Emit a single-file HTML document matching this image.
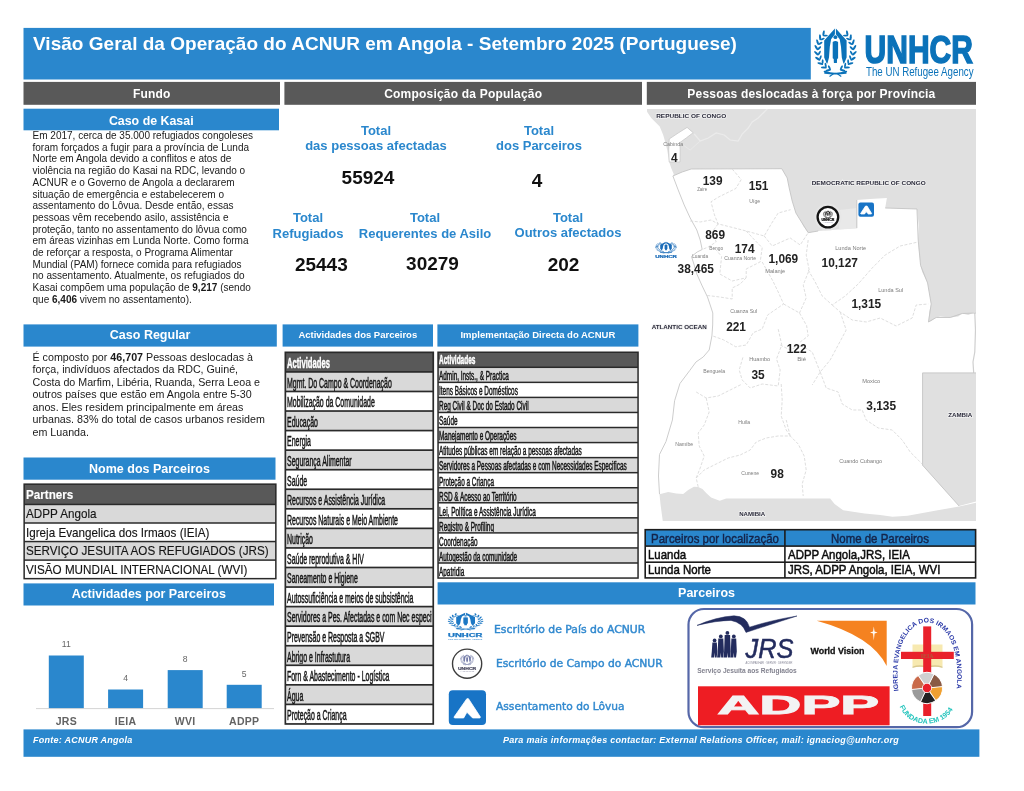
<!DOCTYPE html>
<html lang="pt"><head><meta charset="utf-8"><title>Visão Geral da Operação do ACNUR em Angola</title>
<style>
html,body{margin:0;padding:0;background:#fff;}
body{width:1024px;height:791px;position:relative;overflow:hidden;font-family:"Liberation Sans",Arial,sans-serif;color:#111;}
.a{position:absolute;}
.bar{position:absolute;color:#fff;font-weight:bold;text-align:center;white-space:nowrap;}
.t{position:absolute;white-space:nowrap;}
.c{position:absolute;white-space:nowrap;text-align:center;transform:translateX(-50%);}
.lbl{color:#2a87cd;font-weight:bold;font-size:13px;line-height:14.4px;}
.num{color:#111;font-weight:bold;font-size:19px;}
.p{position:absolute;font-size:10.03px;color:#1a1a1a;white-space:nowrap;}
.p b{font-weight:bold;}
.tbl{position:absolute;}
.row{position:absolute;left:0;overflow:hidden;white-space:nowrap;}
.row span{display:inline-block;transform-origin:0 50%;position:absolute;left:0;top:0;}
.mn{font-weight:bold;font-size:11.9px;fill:#222;font-family:"Liberation Sans",Arial,sans-serif;}
.ml{font-size:4.5px;fill:#7c7c7c;font-family:"Liberation Sans",Arial,sans-serif;}
.mc{font-size:6.2px;font-weight:bold;fill:#2c2c3c;stroke:#f1f1f1;stroke-width:1.6px;paint-order:stroke;font-family:"Liberation Sans",Arial,sans-serif;}
</style></head>
<body>
<svg class="a" style="left:0;top:0" width="1024" height="791" viewBox="0 0 1024 791">
<rect x="23.50" y="27.90" width="787.30" height="51.60" fill="#2a87cd"/>
<rect x="23.50" y="81.90" width="256.50" height="22.90" fill="#595959"/>
<rect x="284.40" y="81.90" width="357.60" height="22.90" fill="#595959"/>
<rect x="646.80" y="81.90" width="329.20" height="22.90" fill="#595959"/>
<rect x="23.50" y="108.70" width="255.50" height="21.60" fill="#2a87cd"/>
<rect x="23.50" y="324.40" width="253.30" height="22.20" fill="#2a87cd"/>
<rect x="23.50" y="457.50" width="252.00" height="22.20" fill="#2a87cd"/>
<rect x="23.50" y="583.40" width="250.50" height="22.10" fill="#2a87cd"/>
<rect x="282.60" y="324.40" width="150.40" height="22.20" fill="#2a87cd"/>
<rect x="437.40" y="324.40" width="201.00" height="22.20" fill="#2a87cd"/>
<rect x="437.60" y="582.30" width="537.90" height="22.20" fill="#2a87cd"/>
<rect x="23.40" y="483.40" width="253.20" height="96.00" fill="#2a2a2a"/>
<rect x="24.90" y="484.90" width="250.20" height="18.80" fill="#595959"/>
<rect x="24.90" y="505.20" width="250.20" height="17.05" fill="#d9d9d9"/>
<rect x="24.90" y="523.75" width="250.20" height="17.05" fill="#fff"/>
<rect x="24.90" y="542.30" width="250.20" height="17.05" fill="#d9d9d9"/>
<rect x="24.90" y="560.85" width="250.20" height="17.05" fill="#fff"/>
<rect x="284.50" y="351.50" width="149.60" height="373.30" fill="#2a2a2a"/>
<rect x="286.20" y="353.20" width="146.20" height="17.86" fill="#595959"/>
<rect x="286.20" y="372.76" width="146.20" height="17.86" fill="#d9d9d9"/>
<rect x="286.20" y="392.32" width="146.20" height="17.86" fill="#fff"/>
<rect x="286.20" y="411.87" width="146.20" height="17.86" fill="#d9d9d9"/>
<rect x="286.20" y="431.43" width="146.20" height="17.86" fill="#fff"/>
<rect x="286.20" y="450.99" width="146.20" height="17.86" fill="#d9d9d9"/>
<rect x="286.20" y="470.55" width="146.20" height="17.86" fill="#fff"/>
<rect x="286.20" y="490.11" width="146.20" height="17.86" fill="#d9d9d9"/>
<rect x="286.20" y="509.66" width="146.20" height="17.86" fill="#fff"/>
<rect x="286.20" y="529.22" width="146.20" height="17.86" fill="#d9d9d9"/>
<rect x="286.20" y="548.78" width="146.20" height="17.86" fill="#fff"/>
<rect x="286.20" y="568.34" width="146.20" height="17.86" fill="#d9d9d9"/>
<rect x="286.20" y="587.89" width="146.20" height="17.86" fill="#fff"/>
<rect x="286.20" y="607.45" width="146.20" height="17.86" fill="#d9d9d9"/>
<rect x="286.20" y="627.01" width="146.20" height="17.86" fill="#fff"/>
<rect x="286.20" y="646.57" width="146.20" height="17.86" fill="#d9d9d9"/>
<rect x="286.20" y="666.13" width="146.20" height="17.86" fill="#fff"/>
<rect x="286.20" y="685.68" width="146.20" height="17.86" fill="#d9d9d9"/>
<rect x="286.20" y="705.24" width="146.20" height="17.86" fill="#fff"/>
<rect x="437.30" y="351.50" width="201.50" height="227.30" fill="#2a2a2a"/>
<rect x="438.80" y="353.00" width="198.50" height="13.55" fill="#595959"/>
<rect x="438.80" y="368.05" width="198.50" height="13.55" fill="#d9d9d9"/>
<rect x="438.80" y="383.11" width="198.50" height="13.55" fill="#fff"/>
<rect x="438.80" y="398.16" width="198.50" height="13.55" fill="#d9d9d9"/>
<rect x="438.80" y="413.21" width="198.50" height="13.55" fill="#fff"/>
<rect x="438.80" y="428.27" width="198.50" height="13.55" fill="#d9d9d9"/>
<rect x="438.80" y="443.32" width="198.50" height="13.55" fill="#fff"/>
<rect x="438.80" y="458.37" width="198.50" height="13.55" fill="#d9d9d9"/>
<rect x="438.80" y="473.43" width="198.50" height="13.55" fill="#fff"/>
<rect x="438.80" y="488.48" width="198.50" height="13.55" fill="#d9d9d9"/>
<rect x="438.80" y="503.53" width="198.50" height="13.55" fill="#fff"/>
<rect x="438.80" y="518.59" width="198.50" height="13.55" fill="#d9d9d9"/>
<rect x="438.80" y="533.64" width="198.50" height="13.55" fill="#fff"/>
<rect x="438.80" y="548.69" width="198.50" height="13.55" fill="#d9d9d9"/>
<rect x="438.80" y="563.75" width="198.50" height="13.55" fill="#fff"/>
<rect x="644.40" y="528.90" width="332.00" height="49.80" fill="#1c1c1c"/>
<rect x="646.00" y="530.50" width="138.10" height="14.80" fill="#2a87cd"/>
<rect x="785.70" y="530.50" width="189.10" height="14.80" fill="#2a87cd"/>
<rect x="646.00" y="546.90" width="138.10" height="14.50" fill="#fff"/>
<rect x="785.70" y="546.90" width="189.10" height="14.50" fill="#fff"/>
<rect x="646.00" y="563.00" width="138.10" height="14.10" fill="#fff"/>
<rect x="785.70" y="563.00" width="189.10" height="14.10" fill="#fff"/>
<rect x="36.00" y="708.10" width="238.00" height="1.00" fill="#d4d4d4"/>
<rect x="48.80" y="655.50" width="35.00" height="52.60" fill="#2a87cd"/>
<rect x="108.10" y="689.50" width="35.00" height="18.60" fill="#2a87cd"/>
<rect x="167.70" y="670.10" width="35.00" height="38.00" fill="#2a87cd"/>
<rect x="226.70" y="684.80" width="35.00" height="23.30" fill="#2a87cd"/>
<rect x="23.50" y="729.40" width="955.90" height="27.40" fill="#2a87cd"/>
</svg>
<div class="t" style="left:33px;top:32.3px;font-size:19px;font-weight:bold;color:#fff;line-height:23px;letter-spacing:0.02px">Visão Geral da Operação do ACNUR em Angola - Setembro 2025 (Portuguese)</div>
<div class="bar" style="left:23.5px;top:81.9px;width:256.5px;height:22.89999999999999px;line-height:25.09999999999999px;font-size:12px;letter-spacing:0.2px">Fundo</div>
<div class="bar" style="left:284.4px;top:81.9px;width:357.6px;height:22.89999999999999px;line-height:25.09999999999999px;font-size:12px;letter-spacing:0.2px">Composição da População</div>
<div class="bar" style="left:646.8px;top:81.9px;width:329.20000000000005px;height:22.89999999999999px;line-height:25.09999999999999px;font-size:12px;letter-spacing:0.2px">Pessoas deslocadas à força por Província</div>
<div class="bar" style="left:23.5px;top:108.7px;width:255.5px;height:21.60000000000001px;line-height:24.40000000000001px;font-size:12.4px;letter-spacing:0px">Caso de Kasai</div>
<div class="bar" style="left:23.5px;top:324.4px;width:253.3px;height:22.200000000000045px;line-height:22.200000000000045px;font-size:12.5px;letter-spacing:0px">Caso Regular</div>
<div class="bar" style="left:23.5px;top:457.5px;width:252.0px;height:22.19999999999999px;line-height:22.19999999999999px;font-size:12.5px;letter-spacing:0px">Nome dos Parceiros</div>
<div class="bar" style="left:23.5px;top:583.4px;width:250.5px;height:22.100000000000023px;line-height:22.100000000000023px;font-size:12.5px;letter-spacing:0px">Actividades por Parceiros</div>
<div class="bar" style="left:282.6px;top:324.4px;width:150.39999999999998px;height:22.200000000000045px;line-height:22.200000000000045px;font-size:9.5px;letter-spacing:0px">Actividades dos Parceiros</div>
<div class="bar" style="left:437.4px;top:324.4px;width:201.0px;height:22.200000000000045px;line-height:22.200000000000045px;font-size:9.5px;letter-spacing:0px">Implementação Directa do ACNUR</div>
<div class="bar" style="left:437.6px;top:582.3px;width:537.9px;height:22.200000000000045px;line-height:22.200000000000045px;font-size:12.5px;letter-spacing:0px">Parceiros</div>
<div class="p" style="left:32.5px;top:130.10px;line-height:12px">Em 2017, cerca de 35.000 refugiados congoleses</div>
<div class="p" style="left:32.5px;top:141.78px;line-height:12px">foram forçados a fugir para a província de Lunda</div>
<div class="p" style="left:32.5px;top:153.46px;line-height:12px">Norte em Angola devido a conflitos e atos de</div>
<div class="p" style="left:32.5px;top:165.14px;line-height:12px">violência na região do Kasai na RDC, levando o</div>
<div class="p" style="left:32.5px;top:176.82px;line-height:12px">ACNUR e o Governo de Angola a declararem</div>
<div class="p" style="left:32.5px;top:188.50px;line-height:12px">situação de emergência e estabelecerem o</div>
<div class="p" style="left:32.5px;top:200.18px;line-height:12px">assentamento do Lôvua. Desde então, essas</div>
<div class="p" style="left:32.5px;top:211.86px;line-height:12px">pessoas vêm recebendo asilo, assistência e</div>
<div class="p" style="left:32.5px;top:223.54px;line-height:12px">proteção, tanto no assentamento do lôvua como</div>
<div class="p" style="left:32.5px;top:235.22px;line-height:12px">em áreas vizinhas em Lunda Norte. Como forma</div>
<div class="p" style="left:32.5px;top:246.90px;line-height:12px">de reforçar a resposta, o Programa Alimentar</div>
<div class="p" style="left:32.5px;top:258.58px;line-height:12px">Mundial (PAM) fornece comida para refugiados</div>
<div class="p" style="left:32.5px;top:270.26px;line-height:12px">no assentamento. Atualmente, os refugiados do</div>
<div class="p" style="left:32.5px;top:281.94px;line-height:12px">Kasai compõem uma população de <b>9,217</b> (sendo</div>
<div class="p" style="left:32.5px;top:293.62px;line-height:12px">que <b>6,406</b> vivem no assentamento).</div>
<div class="p" style="left:32.5px;top:350.50px;line-height:12px;font-size:10.7px">É composto por <b>46,707</b> Pessoas deslocadas à</div>
<div class="p" style="left:32.5px;top:363.05px;line-height:12px;font-size:10.7px">força, indivíduos afectados da RDC, Guiné,</div>
<div class="p" style="left:32.5px;top:375.60px;line-height:12px;font-size:10.7px">Costa do Marfim, Libéria, Ruanda, Serra Leoa e</div>
<div class="p" style="left:32.5px;top:388.15px;line-height:12px;font-size:10.7px">outros países que estão em Angola entre 5-30</div>
<div class="p" style="left:32.5px;top:400.70px;line-height:12px;font-size:10.7px">anos. Eles residem principalmente em áreas</div>
<div class="p" style="left:32.5px;top:413.25px;line-height:12px;font-size:10.7px">urbanas. 83% do total de casos urbanos residem</div>
<div class="p" style="left:32.5px;top:425.80px;line-height:12px;font-size:10.7px">em Luanda.</div>
<div class="c lbl" style="left:376px;top:124.3px;line-height:14.7px">Total<br>das pessoas afectadas</div>
<div class="c lbl" style="left:539px;top:124.3px;line-height:14.7px">Total<br>dos Parceiros</div>
<div class="c num" style="left:368px;top:167.6px;line-height:20px">55924</div>
<div class="c num" style="left:537px;top:171px;line-height:20px">4</div>
<div class="c lbl" style="left:308px;top:210.4px;line-height:15.7px">Total<br>Refugiados</div>
<div class="c lbl" style="left:425px;top:210.4px;line-height:15.7px">Total<br>Requerentes de Asilo</div>
<div class="c lbl" style="left:568px;top:210.7px;line-height:14.9px">Total<br>Outros afectados</div>
<div class="c num" style="left:321.3px;top:255.3px;line-height:20px">25443</div>
<div class="c num" style="left:432.5px;top:254.3px;line-height:20px">30279</div>
<div class="c num" style="left:563.5px;top:255.3px;line-height:20px">202</div>
<div class="tbl" style="left:23.4px;top:483.4px;width:253.20000000000002px;height:96.0px"><div class="row" style="top:1.50px;left:1.5px;width:250.20000000000002px;height:18.80px;color:#fff;font-weight:bold;font-size:13.5px;line-height:13.5px"><span style="transform:scaleX(0.864);left:1.6px;top:3.17px;-webkit-text-stroke:0.15px #fff">Partners</span></div><div class="row" style="top:21.80px;left:1.5px;width:250.20000000000002px;height:17.05px;color:#151515;font-weight:normal;font-size:13.5px;line-height:13.5px"><span style="transform:scaleX(0.864);left:1.6px;top:2.12px;-webkit-text-stroke:0.15px #151515">ADPP Angola</span></div><div class="row" style="top:40.35px;left:1.5px;width:250.20000000000002px;height:17.05px;color:#151515;font-weight:normal;font-size:13.5px;line-height:13.5px"><span style="transform:scaleX(0.864);left:1.6px;top:2.12px;-webkit-text-stroke:0.15px #151515">Igreja Evangelica dos Irmaos (IEIA)</span></div><div class="row" style="top:58.90px;left:1.5px;width:250.20000000000002px;height:17.05px;color:#151515;font-weight:normal;font-size:13.5px;line-height:13.5px"><span style="transform:scaleX(0.864);left:1.6px;top:2.12px;-webkit-text-stroke:0.15px #151515">SERVIÇO JESUITA AOS REFUGIADOS (JRS)</span></div><div class="row" style="top:77.45px;left:1.5px;width:250.20000000000002px;height:17.05px;color:#151515;font-weight:normal;font-size:13.5px;line-height:13.5px"><span style="transform:scaleX(0.864);left:1.6px;top:2.12px;-webkit-text-stroke:0.15px #151515">VISÃO MUNDIAL INTERNACIONAL (WVI)</span></div></div>
<div class="tbl" style="left:284.5px;top:351.5px;width:149.60000000000002px;height:373.29999999999995px"><div class="row" style="top:1.70px;left:1.7px;width:146.20000000000002px;height:17.86px;color:#fff;font-weight:bold;font-size:15px;line-height:15px"><span style="transform:scaleX(0.51);left:0.9px;top:2.16px;-webkit-text-stroke:0.5px #fff">Actividades</span></div><div class="row" style="top:21.26px;left:1.7px;width:146.20000000000002px;height:17.86px;color:#151515;font-weight:normal;font-size:14px;line-height:14px"><span style="transform:scaleX(0.497);left:0.9px;top:3.01px;-webkit-text-stroke:0.5px #151515">Mgmt. Do Campo &amp; Coordenação</span></div><div class="row" style="top:40.82px;left:1.7px;width:146.20000000000002px;height:17.86px;color:#151515;font-weight:normal;font-size:14px;line-height:14px"><span style="transform:scaleX(0.497);left:0.9px;top:3.01px;-webkit-text-stroke:0.5px #151515">Mobilização da Comunidade</span></div><div class="row" style="top:60.37px;left:1.7px;width:146.20000000000002px;height:17.86px;color:#151515;font-weight:normal;font-size:14px;line-height:14px"><span style="transform:scaleX(0.497);left:0.9px;top:3.01px;-webkit-text-stroke:0.5px #151515">Educação</span></div><div class="row" style="top:79.93px;left:1.7px;width:146.20000000000002px;height:17.86px;color:#151515;font-weight:normal;font-size:14px;line-height:14px"><span style="transform:scaleX(0.497);left:0.9px;top:3.01px;-webkit-text-stroke:0.5px #151515">Energia</span></div><div class="row" style="top:99.49px;left:1.7px;width:146.20000000000002px;height:17.86px;color:#151515;font-weight:normal;font-size:14px;line-height:14px"><span style="transform:scaleX(0.497);left:0.9px;top:3.01px;-webkit-text-stroke:0.5px #151515">Segurança Alimentar</span></div><div class="row" style="top:119.05px;left:1.7px;width:146.20000000000002px;height:17.86px;color:#151515;font-weight:normal;font-size:14px;line-height:14px"><span style="transform:scaleX(0.497);left:0.9px;top:3.01px;-webkit-text-stroke:0.5px #151515">Saúde</span></div><div class="row" style="top:138.61px;left:1.7px;width:146.20000000000002px;height:17.86px;color:#151515;font-weight:normal;font-size:14px;line-height:14px"><span style="transform:scaleX(0.497);left:0.9px;top:3.01px;-webkit-text-stroke:0.5px #151515">Recursos e Assistência Jurídica</span></div><div class="row" style="top:158.16px;left:1.7px;width:146.20000000000002px;height:17.86px;color:#151515;font-weight:normal;font-size:14px;line-height:14px"><span style="transform:scaleX(0.497);left:0.9px;top:3.01px;-webkit-text-stroke:0.5px #151515">Recursos Naturais e Meio Ambiente</span></div><div class="row" style="top:177.72px;left:1.7px;width:146.20000000000002px;height:17.86px;color:#151515;font-weight:normal;font-size:14px;line-height:14px"><span style="transform:scaleX(0.497);left:0.9px;top:3.01px;-webkit-text-stroke:0.5px #151515">Nutrição</span></div><div class="row" style="top:197.28px;left:1.7px;width:146.20000000000002px;height:17.86px;color:#151515;font-weight:normal;font-size:14px;line-height:14px"><span style="transform:scaleX(0.497);left:0.9px;top:3.01px;-webkit-text-stroke:0.5px #151515">Saúde reprodutiva &amp; HIV</span></div><div class="row" style="top:216.84px;left:1.7px;width:146.20000000000002px;height:17.86px;color:#151515;font-weight:normal;font-size:14px;line-height:14px"><span style="transform:scaleX(0.497);left:0.9px;top:3.01px;-webkit-text-stroke:0.5px #151515">Saneamento e Higiene</span></div><div class="row" style="top:236.39px;left:1.7px;width:146.20000000000002px;height:17.86px;color:#151515;font-weight:normal;font-size:14px;line-height:14px"><span style="transform:scaleX(0.497);left:0.9px;top:3.01px;-webkit-text-stroke:0.5px #151515">Autossuficiência e meios de subsistência</span></div><div class="row" style="top:255.95px;left:1.7px;width:146.20000000000002px;height:17.86px;color:#151515;font-weight:normal;font-size:14px;line-height:14px"><span style="transform:scaleX(0.497);left:0.9px;top:3.01px;-webkit-text-stroke:0.5px #151515">Servidores a Pes. Afectadas e com Nec especificas</span></div><div class="row" style="top:275.51px;left:1.7px;width:146.20000000000002px;height:17.86px;color:#151515;font-weight:normal;font-size:14px;line-height:14px"><span style="transform:scaleX(0.497);left:0.9px;top:3.01px;-webkit-text-stroke:0.5px #151515">Prevensão e Resposta a SGBV</span></div><div class="row" style="top:295.07px;left:1.7px;width:146.20000000000002px;height:17.86px;color:#151515;font-weight:normal;font-size:14px;line-height:14px"><span style="transform:scaleX(0.497);left:0.9px;top:3.01px;-webkit-text-stroke:0.5px #151515">Abrigo e Infrastutura</span></div><div class="row" style="top:314.63px;left:1.7px;width:146.20000000000002px;height:17.86px;color:#151515;font-weight:normal;font-size:14px;line-height:14px"><span style="transform:scaleX(0.497);left:0.9px;top:3.01px;-webkit-text-stroke:0.5px #151515">Forn &amp; Abastecimento - Logística</span></div><div class="row" style="top:334.18px;left:1.7px;width:146.20000000000002px;height:17.86px;color:#151515;font-weight:normal;font-size:14px;line-height:14px"><span style="transform:scaleX(0.497);left:0.9px;top:3.01px;-webkit-text-stroke:0.5px #151515">Água</span></div><div class="row" style="top:353.74px;left:1.7px;width:146.20000000000002px;height:17.86px;color:#151515;font-weight:normal;font-size:14px;line-height:14px"><span style="transform:scaleX(0.497);left:0.9px;top:3.01px;-webkit-text-stroke:0.5px #151515">Proteção a Criança</span></div></div>
<div class="tbl" style="left:437.3px;top:351.5px;width:201.49999999999994px;height:227.29999999999995px"><div class="row" style="top:1.50px;left:1.5px;width:198.49999999999994px;height:13.55px;color:#fff;font-weight:bold;font-size:12px;line-height:12px"><span style="transform:scaleX(0.54);left:0.6px;top:1.40px;-webkit-text-stroke:0.5px #fff">Actividades</span></div><div class="row" style="top:16.55px;left:1.5px;width:198.49999999999994px;height:13.55px;color:#151515;font-weight:normal;font-size:12px;line-height:12px"><span style="transform:scaleX(0.535);left:0.6px;top:2.10px;-webkit-text-stroke:0.5px #151515">Admin, Insts., &amp; Practica</span></div><div class="row" style="top:31.61px;left:1.5px;width:198.49999999999994px;height:13.55px;color:#151515;font-weight:normal;font-size:12px;line-height:12px"><span style="transform:scaleX(0.535);left:0.6px;top:2.10px;-webkit-text-stroke:0.5px #151515">Itens Básicos e Domésticos</span></div><div class="row" style="top:46.66px;left:1.5px;width:198.49999999999994px;height:13.55px;color:#151515;font-weight:normal;font-size:12px;line-height:12px"><span style="transform:scaleX(0.535);left:0.6px;top:2.10px;-webkit-text-stroke:0.5px #151515">Reg Civil &amp; Doc do Estado Civil</span></div><div class="row" style="top:61.71px;left:1.5px;width:198.49999999999994px;height:13.55px;color:#151515;font-weight:normal;font-size:12px;line-height:12px"><span style="transform:scaleX(0.535);left:0.6px;top:2.10px;-webkit-text-stroke:0.5px #151515">Saúde</span></div><div class="row" style="top:76.77px;left:1.5px;width:198.49999999999994px;height:13.55px;color:#151515;font-weight:normal;font-size:12px;line-height:12px"><span style="transform:scaleX(0.535);left:0.6px;top:2.10px;-webkit-text-stroke:0.5px #151515">Manejamento e Operações</span></div><div class="row" style="top:91.82px;left:1.5px;width:198.49999999999994px;height:13.55px;color:#151515;font-weight:normal;font-size:12px;line-height:12px"><span style="transform:scaleX(0.535);left:0.6px;top:2.10px;-webkit-text-stroke:0.5px #151515">Atitudes públicas em relação a pessoas afectadas</span></div><div class="row" style="top:106.87px;left:1.5px;width:198.49999999999994px;height:13.55px;color:#151515;font-weight:normal;font-size:12px;line-height:12px"><span style="transform:scaleX(0.535);left:0.6px;top:2.10px;-webkit-text-stroke:0.5px #151515">Servidores a Pessoas afectadas e com Necessidades Especificas</span></div><div class="row" style="top:121.93px;left:1.5px;width:198.49999999999994px;height:13.55px;color:#151515;font-weight:normal;font-size:12px;line-height:12px"><span style="transform:scaleX(0.535);left:0.6px;top:2.10px;-webkit-text-stroke:0.5px #151515">Proteção a Criança</span></div><div class="row" style="top:136.98px;left:1.5px;width:198.49999999999994px;height:13.55px;color:#151515;font-weight:normal;font-size:12px;line-height:12px"><span style="transform:scaleX(0.535);left:0.6px;top:2.10px;-webkit-text-stroke:0.5px #151515">RSD &amp; Acesso ao Território</span></div><div class="row" style="top:152.03px;left:1.5px;width:198.49999999999994px;height:13.55px;color:#151515;font-weight:normal;font-size:12px;line-height:12px"><span style="transform:scaleX(0.535);left:0.6px;top:2.10px;-webkit-text-stroke:0.5px #151515">Lei, Política e Assistência Jurídica</span></div><div class="row" style="top:167.09px;left:1.5px;width:198.49999999999994px;height:13.55px;color:#151515;font-weight:normal;font-size:12px;line-height:12px"><span style="transform:scaleX(0.535);left:0.6px;top:2.10px;-webkit-text-stroke:0.5px #151515">Registro &amp; Profiling</span></div><div class="row" style="top:182.14px;left:1.5px;width:198.49999999999994px;height:13.55px;color:#151515;font-weight:normal;font-size:12px;line-height:12px"><span style="transform:scaleX(0.535);left:0.6px;top:2.10px;-webkit-text-stroke:0.5px #151515">Coordenação</span></div><div class="row" style="top:197.19px;left:1.5px;width:198.49999999999994px;height:13.55px;color:#151515;font-weight:normal;font-size:12px;line-height:12px"><span style="transform:scaleX(0.535);left:0.6px;top:2.10px;-webkit-text-stroke:0.5px #151515">Autogestão da comunidade</span></div><div class="row" style="top:212.25px;left:1.5px;width:198.49999999999994px;height:13.55px;color:#151515;font-weight:normal;font-size:12px;line-height:12px"><span style="transform:scaleX(0.535);left:0.6px;top:2.10px;-webkit-text-stroke:0.5px #151515">Apatridia</span></div></div>
<div class="tbl" style="left:644.4px;top:528.9px;width:332.0px;height:49.80000000000007px"><div class="row" style="left:1.60px;top:1.60px;width:138.10px;height:14.80px;color:#14244a;font-size:13px;line-height:13px;-webkit-text-stroke:0.45px #14244a"><span style="left:50%;top:1.20px;transform:translateX(-50%) scaleX(0.88);transform-origin:50% 50%">Parceiros por localização</span></div><div class="row" style="left:141.30px;top:1.60px;width:189.10px;height:14.80px;color:#14244a;font-size:13px;line-height:13px;-webkit-text-stroke:0.45px #14244a"><span style="left:50%;top:1.20px;transform:translateX(-50%) scaleX(0.88);transform-origin:50% 50%">Nome de Parceiros</span></div><div class="row" style="left:1.60px;top:18.00px;width:138.10px;height:14.50px;color:#0c0c0c;font-size:13px;line-height:13px;-webkit-text-stroke:0.5px #0c0c0c"><span style="left:2px;top:0.90px;transform:scaleX(0.88)">Luanda</span></div><div class="row" style="left:141.30px;top:18.00px;width:189.10px;height:14.50px;color:#0c0c0c;font-size:13px;line-height:13px;-webkit-text-stroke:0.5px #0c0c0c"><span style="left:2px;top:0.90px;transform:scaleX(0.88)">ADPP Angola,JRS, IEIA</span></div><div class="row" style="left:1.60px;top:34.10px;width:138.10px;height:14.10px;color:#0c0c0c;font-size:13px;line-height:13px;-webkit-text-stroke:0.5px #0c0c0c"><span style="left:2px;top:0.50px;transform:scaleX(0.88)">Lunda Norte</span></div><div class="row" style="left:141.30px;top:34.10px;width:189.10px;height:14.10px;color:#0c0c0c;font-size:13px;line-height:13px;-webkit-text-stroke:0.5px #0c0c0c"><span style="left:2px;top:0.50px;transform:scaleX(0.88)">JRS, ADPP Angola, IEIA, WVI</span></div></div>
<div class="c" style="left:66.3px;top:638.3px;font-size:8.6px;color:#666;line-height:12px">11</div>
<div class="c" style="left:66.3px;top:714.7px;font-size:10.5px;font-weight:bold;color:#636363;line-height:13px;letter-spacing:0.3px">JRS</div>
<div class="c" style="left:125.6px;top:672.3px;font-size:8.6px;color:#666;line-height:12px">4</div>
<div class="c" style="left:125.6px;top:714.7px;font-size:10.5px;font-weight:bold;color:#636363;line-height:13px;letter-spacing:0.3px">IEIA</div>
<div class="c" style="left:185.2px;top:652.9px;font-size:8.6px;color:#666;line-height:12px">8</div>
<div class="c" style="left:185.2px;top:714.7px;font-size:10.5px;font-weight:bold;color:#636363;line-height:13px;letter-spacing:0.3px">WVI</div>
<div class="c" style="left:244.2px;top:667.5999999999999px;font-size:8.6px;color:#666;line-height:12px">5</div>
<div class="c" style="left:244.2px;top:714.7px;font-size:10.5px;font-weight:bold;color:#636363;line-height:13px;letter-spacing:0.3px">ADPP</div>
<div class="t" style="left:33px;top:734px;font-size:9px;font-weight:bold;font-style:italic;color:#fff;line-height:12px;letter-spacing:0.25px">Fonte: ACNUR Angola</div>
<div class="t" style="left:503px;top:734px;font-size:9px;font-weight:bold;font-style:italic;color:#fff;line-height:12px;letter-spacing:0.28px">Para mais informações contactar: External Relations Officer, mail: ignaciog@unhcr.org</div>
<div class="t" style="left:494.3px;top:622.6px;font-size:11px;color:#3189cf;line-height:14px;font-family:'DejaVu Sans','Liberation Sans',sans-serif;-webkit-text-stroke:0.45px #3189cf"><span style="display:inline-block;transform:scaleX(0.984);transform-origin:0 50%">Escritório de País do ACNUR</span></div>
<div class="t" style="left:495.6px;top:656.6px;font-size:11px;color:#3189cf;line-height:14px;font-family:'DejaVu Sans','Liberation Sans',sans-serif;-webkit-text-stroke:0.45px #3189cf"><span style="display:inline-block;transform:scaleX(0.975);transform-origin:0 50%">Escritório de Campo do ACNUR</span></div>
<div class="t" style="left:495.6px;top:699.8px;font-size:11px;color:#3189cf;line-height:14px;font-family:'DejaVu Sans','Liberation Sans',sans-serif;-webkit-text-stroke:0.45px #3189cf"><span style="display:inline-block;transform:scaleX(0.968);transform-origin:0 50%">Assentamento do Lôvua</span></div>
<svg class="a" style="left:646.8px;top:109px" width="329.2" height="411.7" viewBox="646.8 109 329.2 411.7">
<rect x="646" y="108" width="331" height="414" fill="#fff"/>
<path d="M646,108 L977,108 L977,313 L974,312.5 L968,315 L962,313.5 L958,316.5 L950,317.5 L940,316.5 L936,317.5 L931,321 L928.3,322 L929,312 L931,304 L929,293 L927.4,283 L922,272 L920.4,265.4 L918.6,250 L918,240 L918.5,225 L916.8,209 L900,208.5 L885,208 L886.7,198 L870,199 L856.6,200 L856.6,228 L838,229.5 L818,231 L808,232.7 L803,226 L800,220 L795.7,213 L792,201 L789,188 L787,178 L781.6,168.7 L740,168.7 L691,169 L682,172 L672.7,176 L673.6,174.3 L671,168 L669,162 L667,150 L665,142 L663,135 L659.5,126.5 L651,118 L647,112Z" fill="#e0e0e0"/>
<path d="M694,134 L700,141 L708,138 L716,133 L724,135 L730,140 L738,141 L742,134 L748,128 L752,122 L758,118 L764,112 L768,108" fill="none" stroke="#ebebeb" stroke-width="1.2"/>
<path d="M680,143 L690,150 L700,141" fill="none" stroke="#e8e8e8" stroke-width="1"/>
<path d="M839,210 L857,208 L857,228.5 L839,229.5 Z" fill="#e9e9e9"/>
<path d="M669,139 L678,133 L686.9,127.4 L693,132.7 L686,138 L679.8,142.5 L680,152 L679.8,162 L669,162 L668.5,150 Z" fill="#fff" stroke="#c9c9c9" stroke-width="0.8"/>
<path d="M922.4,372.9 L977,372.9 L977,501.3 L958.9,506 L940,485 L922.4,465.2 Z" fill="#e0e0e0"/>
<path d="M974.6,313 L975.3,330 L974.6,352 L972.8,362 L973.5,372.9" fill="none" stroke="#cfcfcf" stroke-width="1.2"/>
<path d="M659.3,494.2 L668,492 L676,493.5 L683,494 L688,490 L693.7,486.7 L698,487 L702.3,488.9 L706,493 L710.9,497.5 L719.5,500.7 L726,498.5 L800,498.5 L830,498.5 L834.4,503.9 L843,510.3 L864.4,513.6 L880,515 L892.4,516.8 L907.4,515.7 L937.5,510.3 L958.9,506.5 L977,502.5 L977,522 L662.7,522 L660.4,505Z" fill="#e0e0e0"/>
<path d="M672.7,176 L678,190 L684,205 L690,218 L696.6,230 L700,240 L702,249.5 L697,252 L691.3,256.5 L694,265 L696.6,274 L702,286 L707.3,297 L710,305 L712.6,313 L712.5,325 L711.7,336 L709,350 L703,357 L695.8,362 L689.4,370.7 L679.7,383.6 L674.4,400.8 L672.2,420 L665.8,441.6 L659.3,454.5 L658.3,476 L659.3,494.2" fill="none" stroke="#cdcdcd" stroke-width="1"/>
<path d="M672.7,176 L682,172 L691,169 L781.6,168.7 L787,178 L789,188 L792,201 L795.7,213 L800,220 L808,232.7 L818,231 M856.6,228 L856.6,200 M885,208 L916.8,209 L918,240 L920.4,265.4 L927.4,283 L931,304 L928.3,322 L936,317.5 L950,317.5 L962,313.5 L976,313 M976,372.9 L922.4,372.9 L922.4,465.2 L958.9,506" fill="none" stroke="#c4c4c4" stroke-width="0.9"/>
<path d="M732,169 L741,179.6 L735.6,188.5 L717.9,197.3 L710.8,201.8 L714.3,215 L717.9,223.9 L732,227.4 L746,231 L764,236 L771,224 L778,213 L790.4,209.7" fill="none" stroke="#dadada" stroke-width="0.9" stroke-dasharray="3 1.6"/>
<path d="M690,221 L700,222 L710.8,220 L717.9,223.9" fill="none" stroke="#dadada" stroke-width="0.9" stroke-dasharray="3 1.6"/>
<path d="M717.9,223.9 L712,232 L716,242 L708,247 L702,249.5" fill="none" stroke="#dadada" stroke-width="0.9" stroke-dasharray="3 1.6"/>
<path d="M746,231 L755,240.6 L762,247.7 L760,261.9 L746,269 L746,277.8 L732,281 L719.6,274 L721.4,256.5 L716,250" fill="none" stroke="#dadada" stroke-width="0.9" stroke-dasharray="3 1.6"/>
<path d="M764,236 L772,246 L790,238 L800,245 L808,232.7" fill="none" stroke="#dadada" stroke-width="0.9" stroke-dasharray="3 1.6"/>
<path d="M707,295.5 L719.6,297 L732,299 L732,288 L740,284 L746,277.8" fill="none" stroke="#dadada" stroke-width="0.9" stroke-dasharray="3 1.6"/>
<path d="M762,262 L772.7,281 L778,292 L783.4,304 L767.4,315 L762,329 L753,332.7 L746,345 L735.6,346.8 L723,339.7 L712.6,336" fill="none" stroke="#dadada" stroke-width="0.9" stroke-dasharray="3 1.6"/>
<path d="M783.4,304 L799.3,313 L806.4,325.6 L808,336 L800,342" fill="none" stroke="#dadada" stroke-width="0.9" stroke-dasharray="3 1.6"/>
<path d="M808,240 L806,255 L809,270 L803,285 L806,298 L799.3,313" fill="none" stroke="#dadada" stroke-width="0.9" stroke-dasharray="3 1.6"/>
<path d="M808,270 L815,282 L822,296 L832,305 L845,296 L858,284 L872,268 L885,255 L900,246 L918,242" fill="none" stroke="#dadada" stroke-width="0.9" stroke-dasharray="3 1.6"/>
<path d="M832,305 L840,312 L852,320 L866,322 L880,318 L896,326 L912,318 L916,305 L928,304" fill="none" stroke="#dadada" stroke-width="0.9" stroke-dasharray="3 1.6"/>
<path d="M840,312 L846,330 L838,345 L830,360 L820,372 L812,385" fill="none" stroke="#dadada" stroke-width="0.9" stroke-dasharray="3 1.6"/>
<path d="M742.7,357.4 L739,370 L742,380 L750,388 L762,384 L778,386 L780,370 L776.3,359 L781.6,345 L778,329" fill="none" stroke="#dadada" stroke-width="0.9" stroke-dasharray="3 1.6"/>
<path d="M696,392 L706,398 L718,396 L730,390 L742,384" fill="none" stroke="#dadada" stroke-width="0.9" stroke-dasharray="3 1.6"/>
<path d="M781,384 L782,400 L781,416 L786,430 L790,436" fill="none" stroke="#dadada" stroke-width="0.9" stroke-dasharray="3 1.6"/>
<path d="M706,398 L709,412 L704,425 L698,433 L699,446 L704,456 L700,468 L696,478 L698,487" fill="none" stroke="#dadada" stroke-width="0.9" stroke-dasharray="3 1.6"/>
<path d="M696,478 L704,470 L716,464 L728,458 L740,455 L750,450 L756,442 L766,438 L778,436 L790,436 L798,444 L804,456 L806,470 L802,484 L803,496" fill="none" stroke="#dadada" stroke-width="0.9" stroke-dasharray="3 1.6"/>
<path d="M780,345 L790,350 L800,345 L812,352 L820,372" fill="none" stroke="#dadada" stroke-width="0.9" stroke-dasharray="3 1.6"/>
<path d="M820,372 L826,388 L838,392 L842,404 L852,410 L862,410 L866,420 L878,428 L892,430 L902,440 L910,452 L922,464" fill="none" stroke="#dadada" stroke-width="0.9" stroke-dasharray="3 1.6"/>
<path d="M790,436 L786,420" fill="none" stroke="#dadada" stroke-width="0.9" stroke-dasharray="3 1.6"/>
<text x="656" y="118" class="mc" text-anchor="start" textLength="70" lengthAdjust="spacingAndGlyphs">REPUBLIC OF CONGO</text>
<text x="811.5" y="185" class="mc" text-anchor="start" textLength="114" lengthAdjust="spacingAndGlyphs">DEMOCRATIC REPUBLIC OF CONGO</text>
<text x="651.5" y="329" class="mc" text-anchor="start" textLength="55" lengthAdjust="spacingAndGlyphs">ATLANTIC OCEAN</text>
<text x="948" y="417" class="mc" text-anchor="start" textLength="24" lengthAdjust="spacingAndGlyphs">ZAMBIA</text>
<text x="739" y="516" class="mc" text-anchor="start" textLength="26" lengthAdjust="spacingAndGlyphs">NAMIBIA</text>
<text x="663" y="146.5" class="ml" text-anchor="start" textLength="20" lengthAdjust="spacingAndGlyphs">Cabinda</text>
<text x="697" y="191.5" class="ml" text-anchor="start" textLength="10" lengthAdjust="spacingAndGlyphs">Zaire</text>
<text x="749" y="203" class="ml" text-anchor="start" textLength="11" lengthAdjust="spacingAndGlyphs">Uíge</text>
<text x="709" y="250.5" class="ml" text-anchor="start" textLength="14" lengthAdjust="spacingAndGlyphs">Bengo</text>
<text x="692" y="258.5" class="ml" text-anchor="start" textLength="16" lengthAdjust="spacingAndGlyphs">Luanda</text>
<text x="724" y="260.5" class="ml" text-anchor="start" textLength="32" lengthAdjust="spacingAndGlyphs">Cuanza Norte</text>
<text x="765" y="273.5" class="ml" text-anchor="start" textLength="20" lengthAdjust="spacingAndGlyphs">Malanje</text>
<text x="835" y="250" class="ml" text-anchor="start" textLength="31" lengthAdjust="spacingAndGlyphs">Lunda Norte</text>
<text x="878" y="292.5" class="ml" text-anchor="start" textLength="25" lengthAdjust="spacingAndGlyphs">Lunda Sul</text>
<text x="730" y="313" class="ml" text-anchor="start" textLength="27" lengthAdjust="spacingAndGlyphs">Cuanza Sul</text>
<text x="749" y="361.5" class="ml" text-anchor="start" textLength="21" lengthAdjust="spacingAndGlyphs">Huambo</text>
<text x="797" y="361" class="ml" text-anchor="start" textLength="9" lengthAdjust="spacingAndGlyphs">Bié</text>
<text x="703" y="373.5" class="ml" text-anchor="start" textLength="22" lengthAdjust="spacingAndGlyphs">Benguela</text>
<text x="862" y="383" class="ml" text-anchor="start" textLength="18" lengthAdjust="spacingAndGlyphs">Moxico</text>
<text x="738" y="424.5" class="ml" text-anchor="start" textLength="12" lengthAdjust="spacingAndGlyphs">Huíla</text>
<text x="675" y="446.5" class="ml" text-anchor="start" textLength="18" lengthAdjust="spacingAndGlyphs">Namibe</text>
<text x="741" y="475" class="ml" text-anchor="start" textLength="18" lengthAdjust="spacingAndGlyphs">Cunene</text>
<text x="839" y="463" class="ml" text-anchor="start" textLength="43" lengthAdjust="spacingAndGlyphs">Cuando Cubango</text>
<text x="674.0" y="162" class="mn" text-anchor="middle">4</text>
<text x="712.4" y="185" class="mn" text-anchor="middle">139</text>
<text x="758.35" y="190.3" class="mn" text-anchor="middle">151</text>
<text x="714.95" y="239" class="mn" text-anchor="middle">869</text>
<text x="744.45" y="253.5" class="mn" text-anchor="middle">174</text>
<text x="783.15" y="262.6" class="mn" text-anchor="middle">1,069</text>
<text x="695.5" y="273" class="mn" text-anchor="middle">38,465</text>
<text x="735.85" y="331" class="mn" text-anchor="middle">221</text>
<text x="796.4" y="353" class="mn" text-anchor="middle">122</text>
<text x="839.5" y="267" class="mn" text-anchor="middle">10,127</text>
<text x="866.1" y="308.2" class="mn" text-anchor="middle">1,315</text>
<text x="757.8" y="379.3" class="mn" text-anchor="middle">35</text>
<text x="776.95" y="477.7" class="mn" text-anchor="middle">98</text>
<text x="881.0" y="410" class="mn" text-anchor="middle">3,135</text>
</svg><svg class="a" style="left:0;top:0;pointer-events:none" width="1024" height="791" viewBox="0 0 1024 791" font-family="'Liberation Sans',Arial,sans-serif">
<g transform="translate(835.4,52.5) scale(1.0,1.0)" fill="#0b72b9" stroke="none"><path d="M-0.5,-23.9 L-11.2,-12.1 L-11.2,4.9 L-8.7,11 L-8.0,11 L-6.4,4.9 L-5.6,-5.7 L-4.3,-13.2 L-0.5,-18.2 Z"/><path d="M0.5,-23.9 L11.2,-12.1 L11.2,4.9 L8.7,11 L8.0,11 L6.4,4.9 L5.6,-5.7 L4.3,-13.2 L0.5,-18.2 Z"/><circle cx="0" cy="-15.3" r="1.9"/><path d="M-2.7,-10.4 Q0,-12.6 2.7,-10.4 L2.7,5.7 L1.7,6.6 L1.5,10.6 L-1.5,10.6 L-1.7,6.6 L-2.7,5.7 Z"/><ellipse cx="-7.19" cy="17.83" rx="3.0" ry="1.05" transform="rotate(-193.6 -7.19 17.83)"/><ellipse cx="-6.07" cy="15.05" rx="2.4" ry="0.95" transform="rotate(-117.6 -6.07 15.05)"/><ellipse cx="-11.55" cy="15.05" rx="3.0" ry="1.05" transform="rotate(-177.7 -11.55 15.05)"/><ellipse cx="-9.75" cy="12.65" rx="2.4" ry="0.95" transform="rotate(-101.7 -9.75 12.65)"/><ellipse cx="-15.13" cy="11.10" rx="3.0" ry="1.05" transform="rotate(-162.8 -15.13 11.10)"/><ellipse cx="-12.77" cy="9.25" rx="2.4" ry="0.95" transform="rotate(-86.8 -12.77 9.25)"/><ellipse cx="-17.67" cy="6.24" rx="3.0" ry="1.05" transform="rotate(-148.7 -17.67 6.24)"/><ellipse cx="-14.91" cy="5.07" rx="2.4" ry="0.95" transform="rotate(-72.7 -14.91 5.07)"/><ellipse cx="-19.01" cy="0.81" rx="3.0" ry="1.05" transform="rotate(-135.1 -19.01 0.81)"/><ellipse cx="-16.04" cy="0.39" rx="2.4" ry="0.95" transform="rotate(-59.1 -16.04 0.39)"/><ellipse cx="-19.06" cy="-4.83" rx="3.0" ry="1.05" transform="rotate(-121.8 -19.06 -4.83)"/><ellipse cx="-16.08" cy="-4.47" rx="2.4" ry="0.95" transform="rotate(-45.8 -16.08 -4.47)"/><ellipse cx="-17.80" cy="-10.29" rx="3.0" ry="1.05" transform="rotate(-108.2 -17.80 -10.29)"/><ellipse cx="-15.02" cy="-9.17" rx="2.4" ry="0.95" transform="rotate(-32.2 -15.02 -9.17)"/><ellipse cx="-15.33" cy="-15.20" rx="3.0" ry="1.05" transform="rotate(-94.2 -15.33 -15.20)"/><ellipse cx="-12.94" cy="-13.39" rx="2.4" ry="0.95" transform="rotate(-18.2 -12.94 -13.39)"/><ellipse cx="-11.82" cy="-19.22" rx="3.0" ry="1.05" transform="rotate(-79.3 -11.82 -19.22)"/><ellipse cx="-9.97" cy="-16.86" rx="2.4" ry="0.95" transform="rotate(-3.3 -9.97 -16.86)"/><ellipse cx="7.19" cy="17.83" rx="3.0" ry="1.05" transform="rotate(13.6 7.19 17.83)"/><ellipse cx="6.07" cy="15.05" rx="2.4" ry="0.95" transform="rotate(-62.4 6.07 15.05)"/><ellipse cx="11.55" cy="15.05" rx="3.0" ry="1.05" transform="rotate(-2.3 11.55 15.05)"/><ellipse cx="9.75" cy="12.65" rx="2.4" ry="0.95" transform="rotate(-78.3 9.75 12.65)"/><ellipse cx="15.13" cy="11.10" rx="3.0" ry="1.05" transform="rotate(-17.2 15.13 11.10)"/><ellipse cx="12.77" cy="9.25" rx="2.4" ry="0.95" transform="rotate(-93.2 12.77 9.25)"/><ellipse cx="17.67" cy="6.24" rx="3.0" ry="1.05" transform="rotate(-31.3 17.67 6.24)"/><ellipse cx="14.91" cy="5.07" rx="2.4" ry="0.95" transform="rotate(-107.3 14.91 5.07)"/><ellipse cx="19.01" cy="0.81" rx="3.0" ry="1.05" transform="rotate(-44.9 19.01 0.81)"/><ellipse cx="16.04" cy="0.39" rx="2.4" ry="0.95" transform="rotate(-120.9 16.04 0.39)"/><ellipse cx="19.06" cy="-4.83" rx="3.0" ry="1.05" transform="rotate(-58.2 19.06 -4.83)"/><ellipse cx="16.08" cy="-4.47" rx="2.4" ry="0.95" transform="rotate(-134.2 16.08 -4.47)"/><ellipse cx="17.80" cy="-10.29" rx="3.0" ry="1.05" transform="rotate(-71.8 17.80 -10.29)"/><ellipse cx="15.02" cy="-9.17" rx="2.4" ry="0.95" transform="rotate(-147.8 15.02 -9.17)"/><ellipse cx="15.33" cy="-15.20" rx="3.0" ry="1.05" transform="rotate(-85.8 15.33 -15.20)"/><ellipse cx="12.94" cy="-13.39" rx="2.4" ry="0.95" transform="rotate(-161.8 12.94 -13.39)"/><ellipse cx="11.82" cy="-19.22" rx="3.0" ry="1.05" transform="rotate(-100.7 11.82 -19.22)"/><ellipse cx="9.97" cy="-16.86" rx="2.4" ry="0.95" transform="rotate(-176.7 9.97 -16.86)"/><path d="M-11,19 Q-3,22.5 10.5,20.5 M11,19 Q3,22.5 -10.5,20.5" fill="none" stroke="#0b72b9" stroke-width="1.5" stroke-linecap="round"/><path d="M-5.5,23.8 L-2,21.3 M5.5,23.8 L2,21.3" fill="none" stroke="#0b72b9" stroke-width="1.1" stroke-linecap="round"/></g>
<text x="864.6" y="63.2" font-size="39.5" font-weight="bold" fill="#0b72b9" stroke="#0b72b9" stroke-width="1.6" textLength="108.3" lengthAdjust="spacingAndGlyphs">UNHCR</text>
<text x="866" y="76.2" font-size="12.6" fill="#0b72b9" textLength="107.5" lengthAdjust="spacingAndGlyphs">The UN Refugee Agency</text>
<g transform="translate(465.6,621.4) scale(0.8390804597701149,0.3645833333333333)" fill="#1d78c4" stroke="none"><path d="M-0.5,-23.9 L-11.2,-12.1 L-11.2,4.9 L-8.7,11 L-8.0,11 L-6.4,4.9 L-5.6,-5.7 L-4.3,-13.2 L-0.5,-18.2 Z"/><path d="M0.5,-23.9 L11.2,-12.1 L11.2,4.9 L8.7,11 L8.0,11 L6.4,4.9 L5.6,-5.7 L4.3,-13.2 L0.5,-18.2 Z"/><circle cx="0" cy="-15.3" r="1.9"/><path d="M-2.7,-10.4 Q0,-12.6 2.7,-10.4 L2.7,5.7 L1.7,6.6 L1.5,10.6 L-1.5,10.6 L-1.7,6.6 L-2.7,5.7 Z"/><ellipse cx="-7.19" cy="17.83" rx="3.0" ry="1.05" transform="rotate(-193.6 -7.19 17.83)"/><ellipse cx="-6.07" cy="15.05" rx="2.4" ry="0.95" transform="rotate(-117.6 -6.07 15.05)"/><ellipse cx="-11.55" cy="15.05" rx="3.0" ry="1.05" transform="rotate(-177.7 -11.55 15.05)"/><ellipse cx="-9.75" cy="12.65" rx="2.4" ry="0.95" transform="rotate(-101.7 -9.75 12.65)"/><ellipse cx="-15.13" cy="11.10" rx="3.0" ry="1.05" transform="rotate(-162.8 -15.13 11.10)"/><ellipse cx="-12.77" cy="9.25" rx="2.4" ry="0.95" transform="rotate(-86.8 -12.77 9.25)"/><ellipse cx="-17.67" cy="6.24" rx="3.0" ry="1.05" transform="rotate(-148.7 -17.67 6.24)"/><ellipse cx="-14.91" cy="5.07" rx="2.4" ry="0.95" transform="rotate(-72.7 -14.91 5.07)"/><ellipse cx="-19.01" cy="0.81" rx="3.0" ry="1.05" transform="rotate(-135.1 -19.01 0.81)"/><ellipse cx="-16.04" cy="0.39" rx="2.4" ry="0.95" transform="rotate(-59.1 -16.04 0.39)"/><ellipse cx="-19.06" cy="-4.83" rx="3.0" ry="1.05" transform="rotate(-121.8 -19.06 -4.83)"/><ellipse cx="-16.08" cy="-4.47" rx="2.4" ry="0.95" transform="rotate(-45.8 -16.08 -4.47)"/><ellipse cx="-17.80" cy="-10.29" rx="3.0" ry="1.05" transform="rotate(-108.2 -17.80 -10.29)"/><ellipse cx="-15.02" cy="-9.17" rx="2.4" ry="0.95" transform="rotate(-32.2 -15.02 -9.17)"/><ellipse cx="-15.33" cy="-15.20" rx="3.0" ry="1.05" transform="rotate(-94.2 -15.33 -15.20)"/><ellipse cx="-12.94" cy="-13.39" rx="2.4" ry="0.95" transform="rotate(-18.2 -12.94 -13.39)"/><ellipse cx="-11.82" cy="-19.22" rx="3.0" ry="1.05" transform="rotate(-79.3 -11.82 -19.22)"/><ellipse cx="-9.97" cy="-16.86" rx="2.4" ry="0.95" transform="rotate(-3.3 -9.97 -16.86)"/><ellipse cx="7.19" cy="17.83" rx="3.0" ry="1.05" transform="rotate(13.6 7.19 17.83)"/><ellipse cx="6.07" cy="15.05" rx="2.4" ry="0.95" transform="rotate(-62.4 6.07 15.05)"/><ellipse cx="11.55" cy="15.05" rx="3.0" ry="1.05" transform="rotate(-2.3 11.55 15.05)"/><ellipse cx="9.75" cy="12.65" rx="2.4" ry="0.95" transform="rotate(-78.3 9.75 12.65)"/><ellipse cx="15.13" cy="11.10" rx="3.0" ry="1.05" transform="rotate(-17.2 15.13 11.10)"/><ellipse cx="12.77" cy="9.25" rx="2.4" ry="0.95" transform="rotate(-93.2 12.77 9.25)"/><ellipse cx="17.67" cy="6.24" rx="3.0" ry="1.05" transform="rotate(-31.3 17.67 6.24)"/><ellipse cx="14.91" cy="5.07" rx="2.4" ry="0.95" transform="rotate(-107.3 14.91 5.07)"/><ellipse cx="19.01" cy="0.81" rx="3.0" ry="1.05" transform="rotate(-44.9 19.01 0.81)"/><ellipse cx="16.04" cy="0.39" rx="2.4" ry="0.95" transform="rotate(-120.9 16.04 0.39)"/><ellipse cx="19.06" cy="-4.83" rx="3.0" ry="1.05" transform="rotate(-58.2 19.06 -4.83)"/><ellipse cx="16.08" cy="-4.47" rx="2.4" ry="0.95" transform="rotate(-134.2 16.08 -4.47)"/><ellipse cx="17.80" cy="-10.29" rx="3.0" ry="1.05" transform="rotate(-71.8 17.80 -10.29)"/><ellipse cx="15.02" cy="-9.17" rx="2.4" ry="0.95" transform="rotate(-147.8 15.02 -9.17)"/><ellipse cx="15.33" cy="-15.20" rx="3.0" ry="1.05" transform="rotate(-85.8 15.33 -15.20)"/><ellipse cx="12.94" cy="-13.39" rx="2.4" ry="0.95" transform="rotate(-161.8 12.94 -13.39)"/><ellipse cx="11.82" cy="-19.22" rx="3.0" ry="1.05" transform="rotate(-100.7 11.82 -19.22)"/><ellipse cx="9.97" cy="-16.86" rx="2.4" ry="0.95" transform="rotate(-176.7 9.97 -16.86)"/><path d="M-11,19 Q-3,22.5 10.5,20.5 M11,19 Q3,22.5 -10.5,20.5" fill="none" stroke="#1d78c4" stroke-width="1.5" stroke-linecap="round"/><path d="M-5.5,23.8 L-2,21.3 M5.5,23.8 L2,21.3" fill="none" stroke="#1d78c4" stroke-width="1.1" stroke-linecap="round"/></g>
<text x="448" y="637.2" font-size="5" font-weight="bold" fill="#1d78c4" stroke="#1d78c4" stroke-width="0.25" textLength="34.5" lengthAdjust="spacingAndGlyphs">UNHCR</text>
<text x="448" y="640.4" font-size="2.4" font-weight="bold" fill="#4a93d2" textLength="34.5" lengthAdjust="spacingAndGlyphs">The UN Refugee Agency</text>
<circle cx="467.1" cy="663.7" r="14.6" fill="#fff" stroke="#3d3d3d" stroke-width="1.4"/><g transform="translate(467.1,659.758) scale(0.33563218390804594,0.22508333333333333)" fill="#747ca8" stroke="none"><path d="M-0.5,-23.9 L-11.2,-12.1 L-11.2,4.9 L-8.7,11 L-8.0,11 L-6.4,4.9 L-5.6,-5.7 L-4.3,-13.2 L-0.5,-18.2 Z"/><path d="M0.5,-23.9 L11.2,-12.1 L11.2,4.9 L8.7,11 L8.0,11 L6.4,4.9 L5.6,-5.7 L4.3,-13.2 L0.5,-18.2 Z"/><circle cx="0" cy="-15.3" r="1.9"/><path d="M-2.7,-10.4 Q0,-12.6 2.7,-10.4 L2.7,5.7 L1.7,6.6 L1.5,10.6 L-1.5,10.6 L-1.7,6.6 L-2.7,5.7 Z"/><ellipse cx="-7.19" cy="17.83" rx="3.0" ry="1.05" transform="rotate(-193.6 -7.19 17.83)"/><ellipse cx="-6.07" cy="15.05" rx="2.4" ry="0.95" transform="rotate(-117.6 -6.07 15.05)"/><ellipse cx="-11.55" cy="15.05" rx="3.0" ry="1.05" transform="rotate(-177.7 -11.55 15.05)"/><ellipse cx="-9.75" cy="12.65" rx="2.4" ry="0.95" transform="rotate(-101.7 -9.75 12.65)"/><ellipse cx="-15.13" cy="11.10" rx="3.0" ry="1.05" transform="rotate(-162.8 -15.13 11.10)"/><ellipse cx="-12.77" cy="9.25" rx="2.4" ry="0.95" transform="rotate(-86.8 -12.77 9.25)"/><ellipse cx="-17.67" cy="6.24" rx="3.0" ry="1.05" transform="rotate(-148.7 -17.67 6.24)"/><ellipse cx="-14.91" cy="5.07" rx="2.4" ry="0.95" transform="rotate(-72.7 -14.91 5.07)"/><ellipse cx="-19.01" cy="0.81" rx="3.0" ry="1.05" transform="rotate(-135.1 -19.01 0.81)"/><ellipse cx="-16.04" cy="0.39" rx="2.4" ry="0.95" transform="rotate(-59.1 -16.04 0.39)"/><ellipse cx="-19.06" cy="-4.83" rx="3.0" ry="1.05" transform="rotate(-121.8 -19.06 -4.83)"/><ellipse cx="-16.08" cy="-4.47" rx="2.4" ry="0.95" transform="rotate(-45.8 -16.08 -4.47)"/><ellipse cx="-17.80" cy="-10.29" rx="3.0" ry="1.05" transform="rotate(-108.2 -17.80 -10.29)"/><ellipse cx="-15.02" cy="-9.17" rx="2.4" ry="0.95" transform="rotate(-32.2 -15.02 -9.17)"/><ellipse cx="-15.33" cy="-15.20" rx="3.0" ry="1.05" transform="rotate(-94.2 -15.33 -15.20)"/><ellipse cx="-12.94" cy="-13.39" rx="2.4" ry="0.95" transform="rotate(-18.2 -12.94 -13.39)"/><ellipse cx="-11.82" cy="-19.22" rx="3.0" ry="1.05" transform="rotate(-79.3 -11.82 -19.22)"/><ellipse cx="-9.97" cy="-16.86" rx="2.4" ry="0.95" transform="rotate(-3.3 -9.97 -16.86)"/><ellipse cx="7.19" cy="17.83" rx="3.0" ry="1.05" transform="rotate(13.6 7.19 17.83)"/><ellipse cx="6.07" cy="15.05" rx="2.4" ry="0.95" transform="rotate(-62.4 6.07 15.05)"/><ellipse cx="11.55" cy="15.05" rx="3.0" ry="1.05" transform="rotate(-2.3 11.55 15.05)"/><ellipse cx="9.75" cy="12.65" rx="2.4" ry="0.95" transform="rotate(-78.3 9.75 12.65)"/><ellipse cx="15.13" cy="11.10" rx="3.0" ry="1.05" transform="rotate(-17.2 15.13 11.10)"/><ellipse cx="12.77" cy="9.25" rx="2.4" ry="0.95" transform="rotate(-93.2 12.77 9.25)"/><ellipse cx="17.67" cy="6.24" rx="3.0" ry="1.05" transform="rotate(-31.3 17.67 6.24)"/><ellipse cx="14.91" cy="5.07" rx="2.4" ry="0.95" transform="rotate(-107.3 14.91 5.07)"/><ellipse cx="19.01" cy="0.81" rx="3.0" ry="1.05" transform="rotate(-44.9 19.01 0.81)"/><ellipse cx="16.04" cy="0.39" rx="2.4" ry="0.95" transform="rotate(-120.9 16.04 0.39)"/><ellipse cx="19.06" cy="-4.83" rx="3.0" ry="1.05" transform="rotate(-58.2 19.06 -4.83)"/><ellipse cx="16.08" cy="-4.47" rx="2.4" ry="0.95" transform="rotate(-134.2 16.08 -4.47)"/><ellipse cx="17.80" cy="-10.29" rx="3.0" ry="1.05" transform="rotate(-71.8 17.80 -10.29)"/><ellipse cx="15.02" cy="-9.17" rx="2.4" ry="0.95" transform="rotate(-147.8 15.02 -9.17)"/><ellipse cx="15.33" cy="-15.20" rx="3.0" ry="1.05" transform="rotate(-85.8 15.33 -15.20)"/><ellipse cx="12.94" cy="-13.39" rx="2.4" ry="0.95" transform="rotate(-161.8 12.94 -13.39)"/><ellipse cx="11.82" cy="-19.22" rx="3.0" ry="1.05" transform="rotate(-100.7 11.82 -19.22)"/><ellipse cx="9.97" cy="-16.86" rx="2.4" ry="0.95" transform="rotate(-176.7 9.97 -16.86)"/><path d="M-11,19 Q-3,22.5 10.5,20.5 M11,19 Q3,22.5 -10.5,20.5" fill="none" stroke="#747ca8" stroke-width="1.5" stroke-linecap="round"/><path d="M-5.5,23.8 L-2,21.3 M5.5,23.8 L2,21.3" fill="none" stroke="#747ca8" stroke-width="1.1" stroke-linecap="round"/></g><text x="467.1" y="669.832" font-size="3.942" font-weight="bold" fill="#4a4a60" stroke="#4a4a60" stroke-width="0.2" text-anchor="middle" textLength="18.25" lengthAdjust="spacingAndGlyphs">UNHCR</text><text x="467.1" y="672.46" font-size="2.044" fill="#9a9ab0" text-anchor="middle" textLength="14.6" lengthAdjust="spacingAndGlyphs">ACNUR</text>
<rect x="448.8" y="690.2" width="37.2" height="34.7" rx="4" ry="4" fill="#1874c6"/><path d="M466.8604,698.7015 L468.46040000000005,698.7015 L480.42,717.0925000000001 L479.92,717.96 L472.608,717.96 L466.9164,712.2345 L463.68,717.96 L454.50800000000004,717.96 L454.00800000000004,717.0925000000001 Z" fill="#fff" stroke="#fff" stroke-width="0.8" stroke-linejoin="round"/>
<g transform="translate(666,247.6) scale(0.5172413793103449,0.23958333333333334)" fill="#1b6cb8" stroke="none"><path d="M-0.5,-23.9 L-11.2,-12.1 L-11.2,4.9 L-8.7,11 L-8.0,11 L-6.4,4.9 L-5.6,-5.7 L-4.3,-13.2 L-0.5,-18.2 Z"/><path d="M0.5,-23.9 L11.2,-12.1 L11.2,4.9 L8.7,11 L8.0,11 L6.4,4.9 L5.6,-5.7 L4.3,-13.2 L0.5,-18.2 Z"/><circle cx="0" cy="-15.3" r="1.9"/><path d="M-2.7,-10.4 Q0,-12.6 2.7,-10.4 L2.7,5.7 L1.7,6.6 L1.5,10.6 L-1.5,10.6 L-1.7,6.6 L-2.7,5.7 Z"/><ellipse cx="-7.19" cy="17.83" rx="3.0" ry="1.05" transform="rotate(-193.6 -7.19 17.83)"/><ellipse cx="-6.07" cy="15.05" rx="2.4" ry="0.95" transform="rotate(-117.6 -6.07 15.05)"/><ellipse cx="-11.55" cy="15.05" rx="3.0" ry="1.05" transform="rotate(-177.7 -11.55 15.05)"/><ellipse cx="-9.75" cy="12.65" rx="2.4" ry="0.95" transform="rotate(-101.7 -9.75 12.65)"/><ellipse cx="-15.13" cy="11.10" rx="3.0" ry="1.05" transform="rotate(-162.8 -15.13 11.10)"/><ellipse cx="-12.77" cy="9.25" rx="2.4" ry="0.95" transform="rotate(-86.8 -12.77 9.25)"/><ellipse cx="-17.67" cy="6.24" rx="3.0" ry="1.05" transform="rotate(-148.7 -17.67 6.24)"/><ellipse cx="-14.91" cy="5.07" rx="2.4" ry="0.95" transform="rotate(-72.7 -14.91 5.07)"/><ellipse cx="-19.01" cy="0.81" rx="3.0" ry="1.05" transform="rotate(-135.1 -19.01 0.81)"/><ellipse cx="-16.04" cy="0.39" rx="2.4" ry="0.95" transform="rotate(-59.1 -16.04 0.39)"/><ellipse cx="-19.06" cy="-4.83" rx="3.0" ry="1.05" transform="rotate(-121.8 -19.06 -4.83)"/><ellipse cx="-16.08" cy="-4.47" rx="2.4" ry="0.95" transform="rotate(-45.8 -16.08 -4.47)"/><ellipse cx="-17.80" cy="-10.29" rx="3.0" ry="1.05" transform="rotate(-108.2 -17.80 -10.29)"/><ellipse cx="-15.02" cy="-9.17" rx="2.4" ry="0.95" transform="rotate(-32.2 -15.02 -9.17)"/><ellipse cx="-15.33" cy="-15.20" rx="3.0" ry="1.05" transform="rotate(-94.2 -15.33 -15.20)"/><ellipse cx="-12.94" cy="-13.39" rx="2.4" ry="0.95" transform="rotate(-18.2 -12.94 -13.39)"/><ellipse cx="-11.82" cy="-19.22" rx="3.0" ry="1.05" transform="rotate(-79.3 -11.82 -19.22)"/><ellipse cx="-9.97" cy="-16.86" rx="2.4" ry="0.95" transform="rotate(-3.3 -9.97 -16.86)"/><ellipse cx="7.19" cy="17.83" rx="3.0" ry="1.05" transform="rotate(13.6 7.19 17.83)"/><ellipse cx="6.07" cy="15.05" rx="2.4" ry="0.95" transform="rotate(-62.4 6.07 15.05)"/><ellipse cx="11.55" cy="15.05" rx="3.0" ry="1.05" transform="rotate(-2.3 11.55 15.05)"/><ellipse cx="9.75" cy="12.65" rx="2.4" ry="0.95" transform="rotate(-78.3 9.75 12.65)"/><ellipse cx="15.13" cy="11.10" rx="3.0" ry="1.05" transform="rotate(-17.2 15.13 11.10)"/><ellipse cx="12.77" cy="9.25" rx="2.4" ry="0.95" transform="rotate(-93.2 12.77 9.25)"/><ellipse cx="17.67" cy="6.24" rx="3.0" ry="1.05" transform="rotate(-31.3 17.67 6.24)"/><ellipse cx="14.91" cy="5.07" rx="2.4" ry="0.95" transform="rotate(-107.3 14.91 5.07)"/><ellipse cx="19.01" cy="0.81" rx="3.0" ry="1.05" transform="rotate(-44.9 19.01 0.81)"/><ellipse cx="16.04" cy="0.39" rx="2.4" ry="0.95" transform="rotate(-120.9 16.04 0.39)"/><ellipse cx="19.06" cy="-4.83" rx="3.0" ry="1.05" transform="rotate(-58.2 19.06 -4.83)"/><ellipse cx="16.08" cy="-4.47" rx="2.4" ry="0.95" transform="rotate(-134.2 16.08 -4.47)"/><ellipse cx="17.80" cy="-10.29" rx="3.0" ry="1.05" transform="rotate(-71.8 17.80 -10.29)"/><ellipse cx="15.02" cy="-9.17" rx="2.4" ry="0.95" transform="rotate(-147.8 15.02 -9.17)"/><ellipse cx="15.33" cy="-15.20" rx="3.0" ry="1.05" transform="rotate(-85.8 15.33 -15.20)"/><ellipse cx="12.94" cy="-13.39" rx="2.4" ry="0.95" transform="rotate(-161.8 12.94 -13.39)"/><ellipse cx="11.82" cy="-19.22" rx="3.0" ry="1.05" transform="rotate(-100.7 11.82 -19.22)"/><ellipse cx="9.97" cy="-16.86" rx="2.4" ry="0.95" transform="rotate(-176.7 9.97 -16.86)"/><path d="M-11,19 Q-3,22.5 10.5,20.5 M11,19 Q3,22.5 -10.5,20.5" fill="none" stroke="#1b6cb8" stroke-width="1.5" stroke-linecap="round"/><path d="M-5.5,23.8 L-2,21.3 M5.5,23.8 L2,21.3" fill="none" stroke="#1b6cb8" stroke-width="1.1" stroke-linecap="round"/></g>
<text x="655.3" y="257.6" font-size="3.4" font-weight="bold" fill="#1b6cb8" stroke="#1b6cb8" stroke-width="0.2" textLength="21.5" lengthAdjust="spacingAndGlyphs">UNHCR</text>
<circle cx="827.9" cy="217.1" r="13.5" fill="#e6e6e6" opacity="0.8"/>
<circle cx="827.9" cy="217.1" r="10.3" fill="#fff" stroke="#141414" stroke-width="2.3"/><g transform="translate(827.9,214.319) scale(0.2367816091954023,0.1587916666666667)" fill="#1a1a1a" stroke="none"><path d="M-0.5,-23.9 L-11.2,-12.1 L-11.2,4.9 L-8.7,11 L-8.0,11 L-6.4,4.9 L-5.6,-5.7 L-4.3,-13.2 L-0.5,-18.2 Z"/><path d="M0.5,-23.9 L11.2,-12.1 L11.2,4.9 L8.7,11 L8.0,11 L6.4,4.9 L5.6,-5.7 L4.3,-13.2 L0.5,-18.2 Z"/><circle cx="0" cy="-15.3" r="1.9"/><path d="M-2.7,-10.4 Q0,-12.6 2.7,-10.4 L2.7,5.7 L1.7,6.6 L1.5,10.6 L-1.5,10.6 L-1.7,6.6 L-2.7,5.7 Z"/><ellipse cx="-7.19" cy="17.83" rx="3.0" ry="1.05" transform="rotate(-193.6 -7.19 17.83)"/><ellipse cx="-6.07" cy="15.05" rx="2.4" ry="0.95" transform="rotate(-117.6 -6.07 15.05)"/><ellipse cx="-11.55" cy="15.05" rx="3.0" ry="1.05" transform="rotate(-177.7 -11.55 15.05)"/><ellipse cx="-9.75" cy="12.65" rx="2.4" ry="0.95" transform="rotate(-101.7 -9.75 12.65)"/><ellipse cx="-15.13" cy="11.10" rx="3.0" ry="1.05" transform="rotate(-162.8 -15.13 11.10)"/><ellipse cx="-12.77" cy="9.25" rx="2.4" ry="0.95" transform="rotate(-86.8 -12.77 9.25)"/><ellipse cx="-17.67" cy="6.24" rx="3.0" ry="1.05" transform="rotate(-148.7 -17.67 6.24)"/><ellipse cx="-14.91" cy="5.07" rx="2.4" ry="0.95" transform="rotate(-72.7 -14.91 5.07)"/><ellipse cx="-19.01" cy="0.81" rx="3.0" ry="1.05" transform="rotate(-135.1 -19.01 0.81)"/><ellipse cx="-16.04" cy="0.39" rx="2.4" ry="0.95" transform="rotate(-59.1 -16.04 0.39)"/><ellipse cx="-19.06" cy="-4.83" rx="3.0" ry="1.05" transform="rotate(-121.8 -19.06 -4.83)"/><ellipse cx="-16.08" cy="-4.47" rx="2.4" ry="0.95" transform="rotate(-45.8 -16.08 -4.47)"/><ellipse cx="-17.80" cy="-10.29" rx="3.0" ry="1.05" transform="rotate(-108.2 -17.80 -10.29)"/><ellipse cx="-15.02" cy="-9.17" rx="2.4" ry="0.95" transform="rotate(-32.2 -15.02 -9.17)"/><ellipse cx="-15.33" cy="-15.20" rx="3.0" ry="1.05" transform="rotate(-94.2 -15.33 -15.20)"/><ellipse cx="-12.94" cy="-13.39" rx="2.4" ry="0.95" transform="rotate(-18.2 -12.94 -13.39)"/><ellipse cx="-11.82" cy="-19.22" rx="3.0" ry="1.05" transform="rotate(-79.3 -11.82 -19.22)"/><ellipse cx="-9.97" cy="-16.86" rx="2.4" ry="0.95" transform="rotate(-3.3 -9.97 -16.86)"/><ellipse cx="7.19" cy="17.83" rx="3.0" ry="1.05" transform="rotate(13.6 7.19 17.83)"/><ellipse cx="6.07" cy="15.05" rx="2.4" ry="0.95" transform="rotate(-62.4 6.07 15.05)"/><ellipse cx="11.55" cy="15.05" rx="3.0" ry="1.05" transform="rotate(-2.3 11.55 15.05)"/><ellipse cx="9.75" cy="12.65" rx="2.4" ry="0.95" transform="rotate(-78.3 9.75 12.65)"/><ellipse cx="15.13" cy="11.10" rx="3.0" ry="1.05" transform="rotate(-17.2 15.13 11.10)"/><ellipse cx="12.77" cy="9.25" rx="2.4" ry="0.95" transform="rotate(-93.2 12.77 9.25)"/><ellipse cx="17.67" cy="6.24" rx="3.0" ry="1.05" transform="rotate(-31.3 17.67 6.24)"/><ellipse cx="14.91" cy="5.07" rx="2.4" ry="0.95" transform="rotate(-107.3 14.91 5.07)"/><ellipse cx="19.01" cy="0.81" rx="3.0" ry="1.05" transform="rotate(-44.9 19.01 0.81)"/><ellipse cx="16.04" cy="0.39" rx="2.4" ry="0.95" transform="rotate(-120.9 16.04 0.39)"/><ellipse cx="19.06" cy="-4.83" rx="3.0" ry="1.05" transform="rotate(-58.2 19.06 -4.83)"/><ellipse cx="16.08" cy="-4.47" rx="2.4" ry="0.95" transform="rotate(-134.2 16.08 -4.47)"/><ellipse cx="17.80" cy="-10.29" rx="3.0" ry="1.05" transform="rotate(-71.8 17.80 -10.29)"/><ellipse cx="15.02" cy="-9.17" rx="2.4" ry="0.95" transform="rotate(-147.8 15.02 -9.17)"/><ellipse cx="15.33" cy="-15.20" rx="3.0" ry="1.05" transform="rotate(-85.8 15.33 -15.20)"/><ellipse cx="12.94" cy="-13.39" rx="2.4" ry="0.95" transform="rotate(-161.8 12.94 -13.39)"/><ellipse cx="11.82" cy="-19.22" rx="3.0" ry="1.05" transform="rotate(-100.7 11.82 -19.22)"/><ellipse cx="9.97" cy="-16.86" rx="2.4" ry="0.95" transform="rotate(-176.7 9.97 -16.86)"/><path d="M-11,19 Q-3,22.5 10.5,20.5 M11,19 Q3,22.5 -10.5,20.5" fill="none" stroke="#1a1a1a" stroke-width="1.5" stroke-linecap="round"/><path d="M-5.5,23.8 L-2,21.3 M5.5,23.8 L2,21.3" fill="none" stroke="#1a1a1a" stroke-width="1.1" stroke-linecap="round"/></g><text x="827.9" y="221.426" font-size="2.7810000000000006" font-weight="bold" fill="#111" stroke="#111" stroke-width="0.2" text-anchor="middle" textLength="12.875" lengthAdjust="spacingAndGlyphs">UNHCR</text><text x="827.9" y="223.28" font-size="1.4420000000000002" fill="#9a9ab0" text-anchor="middle" textLength="10.3" lengthAdjust="spacingAndGlyphs">ACNUR</text>
<rect x="858.4" y="202.6" width="15.6" height="14.2" rx="2" ry="2" fill="#1874c6"/><path d="M865.5092000000001,206.079 L867.1092,206.079 L871.66,213.605 L871.16,213.95999999999998 L868.384,213.95999999999998 L865.9972,211.617 L864.64,213.95999999999998 L861.084,213.95999999999998 L860.584,213.605 Z" fill="#fff" stroke="#fff" stroke-width="0.8" stroke-linejoin="round"/>
<rect x="688.5" y="609" width="283.6" height="118.2" rx="15.5" ry="15.5" fill="#fff" stroke="#5567a8" stroke-width="2.2"/>
<path d="M697,625.4 Q716,617 734,615.8 Q746.5,616.2 749.5,627.2 Q770,620.5 797,616 Q768,625.3 746,632.4 Q742.5,622.6 731,620.4 Q716,620.6 697,625.4 Z" fill="#232c5e" stroke="#232c5e" stroke-width="0.5"/>
<g fill="#232c5e"><circle cx="714.6" cy="640.4" r="1.9"/><path d="M712.4000000000001,642.6 L716.8,642.6 L717.4,651.6 L716.6,657.6 L715.0,657.6 L714.6,652.6 L714.2,657.6 L711.2,657.6 L711.8000000000001,651.6 Z"/><circle cx="720.8" cy="636.4" r="1.9"/><path d="M718.3,638.6 L723.3,638.6 L723.9,651.6 L723.1,657.6 L721.1999999999999,657.6 L720.8,652.6 L720.4,657.6 L717.0999999999999,657.6 L717.6999999999999,651.6 Z"/><circle cx="727.4" cy="632.9" r="1.9"/><path d="M724.7,635.1 L730.0999999999999,635.1 L730.6999999999999,651.6 L729.9,657.6 L727.8,657.6 L727.4,652.6 L727.0,657.6 L723.5,657.6 L724.1,651.6 Z"/><circle cx="733.8" cy="636.4" r="1.9"/><path d="M731.4,638.6 L736.1999999999999,638.6 L736.8,651.6 L736.0,657.6 L734.1999999999999,657.6 L733.8,652.6 L733.4,657.6 L730.1999999999999,657.6 L730.8,651.6 Z"/></g>
<text x="745.5" y="658" font-size="27" font-style="italic" fill="#232c5e" stroke="#232c5e" stroke-width="0.5" textLength="48" lengthAdjust="spacingAndGlyphs">JRS</text>
<text x="745.5" y="663.6" font-size="2.6" fill="#8a8a9a" textLength="47" lengthAdjust="spacingAndGlyphs">ACOMPANHAR · SERVIR · DEFENDER</text>
<text x="697.2" y="673.4" font-size="7.6" font-weight="bold" fill="#82828f" textLength="99.5" lengthAdjust="spacingAndGlyphs">Serviço Jesuíta aos Refugiados</text>
<path d="M816.7,620.7 L886.7,620.7 L886.7,666 Q872,636 816.7,620.7 Z" fill="#f58220"/>
<path d="M873.8,626.5 L874.6,631.6 L877.6,632.5 L874.6,633.4 L873.8,640.5 L873,633.4 L870,632.5 L873,631.6 Z" fill="#fff" opacity="0.95"/>
<text x="810.5" y="654.3" font-size="9.3" font-weight="bold" fill="#111" stroke="#111" stroke-width="0.3" textLength="54" lengthAdjust="spacingAndGlyphs">World Vision</text>
<rect x="698" y="686.3" width="191.6" height="39" fill="#ee1d23"/>
<text x="717.2" y="714.3" font-size="26.3" font-weight="bold" fill="#f3f3f3" stroke="#f3f3f3" stroke-width="0.9" textLength="162" lengthAdjust="spacingAndGlyphs">ADPP</text>
<rect x="912.5" y="644.5" width="30" height="22" fill="#f7e9b0"/>
<path d="M912.5,666.5 Q920,664 927.5,666.5 Q935,664 942.5,666.5 L942.5,668 Q935,665.6 927.5,668 Q920,665.6 912.5,668 Z" fill="#d9c98e"/>
<rect x="923.2" y="626.4" width="8" height="89.6" fill="#e9212b"/>
<rect x="901" y="651.8" width="52.8" height="7.2" fill="#e9212b"/>
<text x="927.2" y="658" font-size="6" font-weight="bold" fill="#b05a3a" text-anchor="middle" font-family="'Liberation Serif',serif">IEIA</text>
<path d="M927.0,672.5 A15.5,15.5 0 0 1 940.7,680.7 L931.0,685.9 A4.5,4.5 0 0 0 927.0,683.5 Z" fill="#8a5a44" stroke="#fff" stroke-width="0.9" transform="rotate(25 927 688) scale(1)"/>
<path d="M940.4,680.2 A15.5,15.5 0 0 1 940.1,696.2 L930.8,690.4 A4.5,4.5 0 0 0 930.9,685.8 Z" fill="#f0a030" stroke="#fff" stroke-width="0.9" transform="rotate(25 927 688) scale(1)"/>
<path d="M940.4,695.8 A15.5,15.5 0 0 1 926.5,703.5 L926.8,692.5 A4.5,4.5 0 0 0 930.9,690.2 Z" fill="#222" stroke="#fff" stroke-width="0.9" transform="rotate(25 927 688) scale(1)"/>
<path d="M927.0,703.5 A15.5,15.5 0 0 1 913.3,695.3 L923.0,690.1 A4.5,4.5 0 0 0 927.0,692.5 Z" fill="#9a9a9a" stroke="#fff" stroke-width="0.9" transform="rotate(25 927 688) scale(1)"/>
<path d="M913.6,695.8 A15.5,15.5 0 0 1 913.9,679.8 L923.2,685.6 A4.5,4.5 0 0 0 923.1,690.2 Z" fill="#c96a4a" stroke="#fff" stroke-width="0.9" transform="rotate(25 927 688) scale(1)"/>
<path d="M913.6,680.2 A15.5,15.5 0 0 1 927.5,672.5 L927.2,683.5 A4.5,4.5 0 0 0 923.1,685.8 Z" fill="#d0d0d0" stroke="#fff" stroke-width="0.9" transform="rotate(25 927 688) scale(1)"/>
<circle cx="927" cy="688" r="4.2" fill="#e9212b"/>
<defs><path id="arcTop" d="M898.5,691 C893,640 912,622.5 927,622.5 C942,622.5 961,640 956.5,690"/><path id="arcBot" d="M899.5,706.5 C909,729.5 945,729.5 955,705.5"/></defs>
<text font-size="6.6" font-weight="bold" fill="#2b3aa8" letter-spacing="0.1"><textPath href="#arcTop" startOffset="0" textLength="163" lengthAdjust="spacingAndGlyphs">IGREJA EVANGELICA DOS IRMAOS EM ANGOLA</textPath></text>
<text font-size="7" font-weight="bold" fill="#22c4bc"><textPath href="#arcBot" startOffset="0" textLength="65" lengthAdjust="spacingAndGlyphs">FUNDADA EM 1954</textPath></text>
</svg>
</body></html>
